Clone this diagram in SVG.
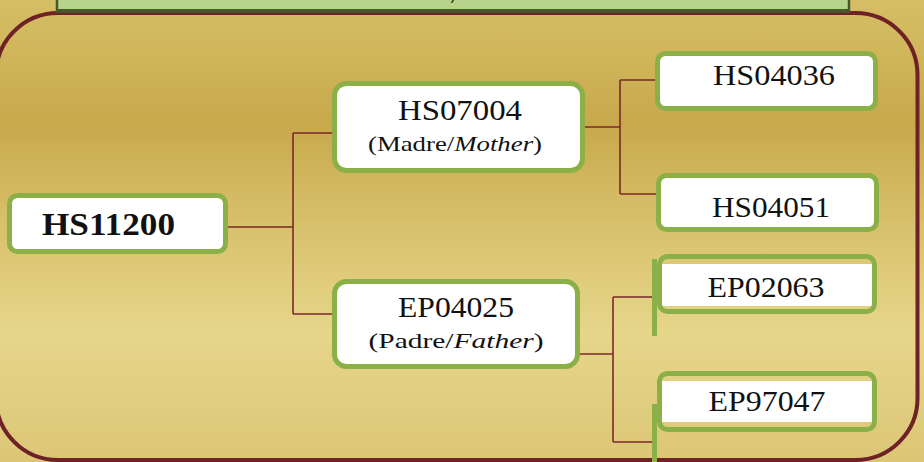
<svg xmlns="http://www.w3.org/2000/svg" width="924" height="462" viewBox="0 0 924 462">
<defs>
<linearGradient id="bg" x1="0" y1="0" x2="0" y2="1">
<stop offset="0" stop-color="#d6be66"/>
<stop offset="0.27" stop-color="#c8a94c"/>
<stop offset="0.5" stop-color="#d9c26e"/>
<stop offset="0.72" stop-color="#e6d68a"/>
<stop offset="1" stop-color="#dcc676"/>
</linearGradient>
<style>
.box{fill:#ffffff;stroke:#8bb047;stroke-width:5}
.frame{fill:none;stroke:#8bb047;stroke-width:5}
.band{fill:#ffffff}
.bar{fill:#8bb047}
.conn{fill:none;stroke:#7a2a2a;stroke-width:1.6}
.t{font-family:"Liberation Serif","Times New Roman",serif;fill:#111;text-anchor:middle}
.big{font-size:30px}
.sub{font-size:22px}
.bold{font-family:"Liberation Serif","Times New Roman",serif;font-weight:bold;font-size:31px;fill:#111}
</style>
</defs>
<rect x="0" y="0" width="924" height="462" fill="url(#bg)"/>
<rect x="-4" y="13" width="921.5" height="447" rx="62" fill="none" stroke="#6e2127" stroke-width="4"/>
<g id="header">
<rect x="57" y="-10" width="792" height="21.5" fill="#b8d38a" stroke="#46592a" stroke-width="2.5"/>
<rect x="57" y="9" width="792" height="3.5" fill="#46592a"/>
<text x="452" y="3" font-family="Liberation Serif, serif" font-style="italic" font-size="24" fill="#111">/</text>
</g>
<g id="connectors">
<path class="conn" d="M228,227 H293 M293,133 V314 M293,133 H334 M293,314 H334"/>
<path class="conn" d="M585,127 H620 M620,80 V194 M620,80 H656 M620,194 H657"/>
<path class="conn" d="M580,354 H613 M613,297 V442 M613,297 H654 M613,442 H654"/>
</g>
<g id="n-HS11200">
<rect class="box" x="9.5" y="195.5" width="216" height="56" rx="8"/>
<text class="bold" x="42" y="235" textLength="133" lengthAdjust="spacingAndGlyphs">HS11200</text>
</g>
<g id="n-HS07004">
<rect class="box" x="334.5" y="83.5" width="248" height="87" rx="12"/>
<text class="t big" x="460" y="120" textLength="124" lengthAdjust="spacingAndGlyphs">HS07004</text>
<text class="t sub" x="455" y="151" textLength="174" lengthAdjust="spacingAndGlyphs">(Madre/<tspan font-style="italic">Mother</tspan>)</text>
</g>
<g id="n-EP04025">
<rect class="box" x="334.5" y="281.5" width="243" height="85" rx="12"/>
<text class="t big" x="456" y="317" textLength="116" lengthAdjust="spacingAndGlyphs">EP04025</text>
<text class="t sub" x="456" y="348" textLength="175" lengthAdjust="spacingAndGlyphs">(Padre/<tspan font-style="italic">Father</tspan>)</text>
</g>
<g id="n-HS04036">
<rect class="box" x="657.5" y="53.5" width="218" height="55" rx="8"/>
<text class="t big" x="774" y="85" textLength="122" lengthAdjust="spacingAndGlyphs">HS04036</text>
</g>
<g id="n-HS04051">
<rect class="box" x="658.5" y="175.5" width="218" height="54" rx="8"/>
<text class="t big" x="771" y="217" textLength="118" lengthAdjust="spacingAndGlyphs">HS04051</text>
</g>
<g id="n-EP02063">
<rect class="band" x="661" y="264" width="212" height="42"/>
<rect class="frame" x="659.5" y="256.5" width="215" height="55" rx="8"/>
<rect class="bar" x="652" y="259" width="5" height="77"/>
<text class="t big" x="766" y="297" textLength="117" lengthAdjust="spacingAndGlyphs">EP02063</text>
</g>
<g id="n-EP97047">
<rect class="band" x="661" y="381" width="212" height="41"/>
<rect class="frame" x="659.5" y="373.5" width="215" height="56" rx="8"/>
<rect class="bar" x="652" y="404" width="5" height="58"/>
<text class="t big" x="767" y="411" textLength="117" lengthAdjust="spacingAndGlyphs">EP97047</text>
</g>
</svg>
